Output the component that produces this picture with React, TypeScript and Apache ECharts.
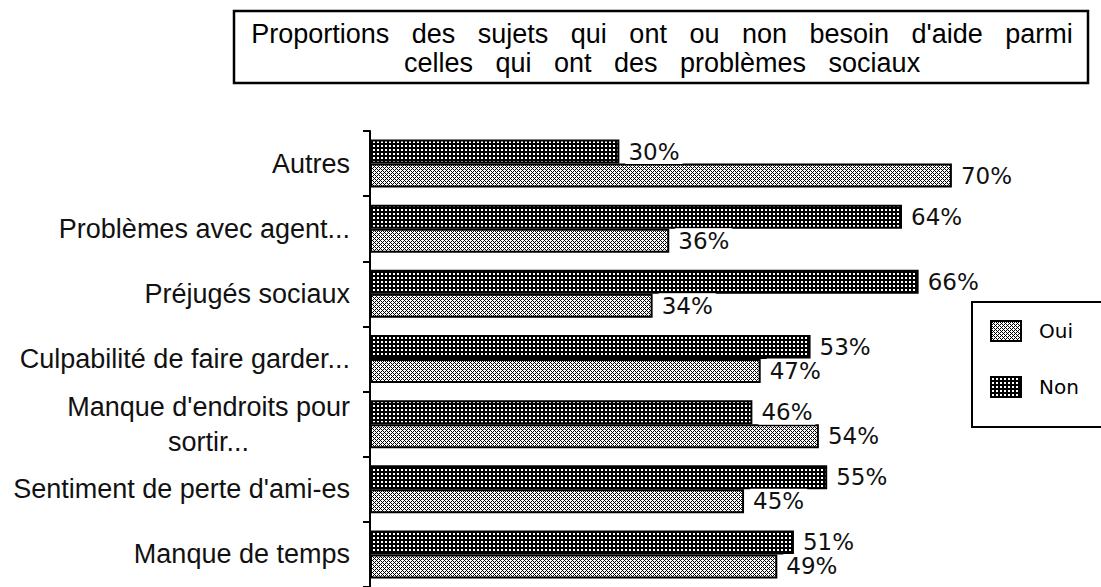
import React, { useEffect, useRef } from "react";
import * as echarts from "echarts";

const categories = [
  "Autres",
  "Problèmes avec agent...",
  "Préjugés sociaux",
  "Culpabilité de faire garder...",
  "Manque d'endroits pour\nsortir...",
  "Sentiment de perte d'ami-es",
  "Manque de temps",
];
const nonValues = [30, 64, 66, 53, 46, 55, 51];
const ouiValues = [70, 36, 34, 47, 54, 45, 49];
const seriesNames = ["Oui", "Non"];
const titleLines = [
  "Proportions   des   sujets   qui   ont   ou   non   besoin   d'aide   parmi",
  "celles   qui   ont   des   problèmes   sociaux",
];

function makePattern(kind: "dark" | "light") {
  const c = document.createElement("canvas");
  const w = 4;
  const h = 4;
  c.width = w;
  c.height = h;
  const ctx = c.getContext("2d")!;
  if (kind === "dark") {
    ctx.fillStyle = "#000";
    ctx.fillRect(0, 0, w, h);
    ctx.fillStyle = "#fff";
    ctx.fillRect(1, 1, 2, 2);
  } else {
    ctx.fillStyle = "#fff";
    ctx.fillRect(0, 0, w, h);
    ctx.fillStyle = "#000";
    for (let x = 0; x < w; x++) {
      for (let y = 0; y < h; y++) {
        if ((x + y) % 4 === 0 || (((x - y) % 4) + 4) % 4 === 0) ctx.fillRect(x, y, 1, 1);
      }
    }
  }
  return { image: c, repeat: "repeat", imageWidth: w, imageHeight: h } as any;
}

export default function App() {
  const ref = useRef<HTMLDivElement>(null);
  useEffect(() => {
    if (!ref.current) return;
    const chart = echarts.init(ref.current, null, { renderer: "svg" });
    const darkPat = makePattern("dark");
    const lightPat = makePattern("light");
    const labelStyle = {
      show: true,
      position: "right",
      distance: 6,
      formatter: "{c}%",
      fontFamily: "DejaVu Sans",
      fontSize: 23,
      color: "#111",
      backgroundColor: "#fff",
      padding: [1, 3, 1, 3],
    };
    chart.setOption({
      animation: false,
      backgroundColor: "#fff",
      title: {
        text: titleLines.join("\n"),
        left: 662,
        top: 19,
        textAlign: "center",
        padding: 0,
        textStyle: {
          fontFamily: "Liberation Sans",
          fontWeight: "normal",
          fontSize: 27,
          lineHeight: 29,
          color: "#000",
        },
      },
      graphic: [
        {
          type: "rect",
          shape: { x: 234, y: 11, width: 854, height: 72 },
          style: { fill: "none", stroke: "#000", lineWidth: 2.5 },
          z: 10,
        },
      ],
      legend: {
        data: seriesNames,
        orient: "vertical",
        left: 972,
        top: 302,
        padding: [18, 70, 29, 18],
        itemWidth: 30,
        itemHeight: 20,
        itemGap: 34,
        icon: "rect",
        borderColor: "#000",
        borderWidth: 2,
        textStyle: {
          fontFamily: "DejaVu Sans",
          fontWeight: "normal",
          fontSize: 20,
          color: "#000",
          padding: [10, 0, 0, 13],
        },
      },
      grid: { left: 370, top: 131, width: 665, height: 457, containLabel: false },
      xAxis: {
        type: "value",
        min: 0,
        max: 80,
        show: false,
      },
      yAxis: {
        type: "category",
        data: categories,
        inverse: true,
        axisLine: { show: true, lineStyle: { color: "#000", width: 2 } },
        axisTick: { show: true, length: 7, lineStyle: { color: "#000", width: 2 } },
        axisLabel: {
          margin: 20,
          fontFamily: "Liberation Sans",
          fontSize: 27,
          color: "#111",
          formatter: (v: string) =>
            v.indexOf("\n") >= 0
              ? v
                  .split("\n")
                  .map((s) => "{c|" + s + "}")
                  .join("\n")
              : v,
          rich: {
            c: { align: "center", lineHeight: 35, fontSize: 27, fontFamily: "Liberation Sans", color: "#111" },
          },
        },
        splitLine: { show: false },
      },
      series: [
        {
          name: "Non",
          type: "bar",
          data: nonValues,
          barWidth: 24,
          barGap: "0%",
          itemStyle: { color: darkPat, borderColor: "#000", borderWidth: 2 },
          label: labelStyle,
        },
        {
          name: "Oui",
          type: "bar",
          data: ouiValues,
          barWidth: 24,
          barGap: "0%",
          itemStyle: { color: lightPat, borderColor: "#000", borderWidth: 2 },
          label: labelStyle,
        },
      ],
    });
    return () => chart.dispose();
  }, []);
  return (
    <div
      ref={ref}
      style={{ position: "fixed", left: 0, top: 0, width: 1101, height: 587 }}
    />
  );
}
